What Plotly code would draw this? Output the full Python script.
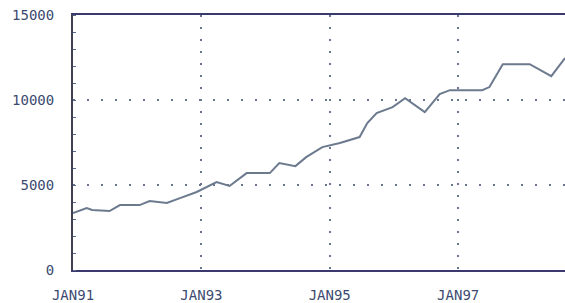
import plotly.graph_objects as go

dates = ["1991-01-01", "1991-03-20", "1991-04-20", "1991-07-28", "1991-09-25",
         "1992-01-15", "1992-03-12", "1992-06-18", "1992-09-01", "1992-12-05",
         "1993-03-28", "1993-06-10", "1993-09-15", "1994-01-25", "1994-03-20",
         "1994-06-20", "1994-08-20", "1994-11-20", "1995-02-28", "1995-06-20",
         "1995-08-03", "1995-09-25", "1995-12-25", "1996-03-05", "1996-06-25",
         "1996-09-18", "1996-11-15", "1997-05-18", "1997-06-28", "1997-09-12",
         "1998-02-12", "1998-06-15", "1998-09-01"]
values = [3350, 3650, 3530, 3470, 3820,
          3820, 4060, 3940, 4230, 4590,
          5170, 4940, 5700, 5700, 6290,
          6110, 6640, 7230, 7470, 7820,
          8640, 9230, 9580, 10110, 9290,
          10350, 10580, 10580, 10760, 12110,
          12110, 11400, 12470]

x_tickvals = ["1991-01-01", "1993-01-01", "1995-01-01", "1997-01-01"]
x_ticktext = ["JAN91", "JAN93", "JAN95", "JAN97"]
y_tickvals = [0, 5000, 10000, 15000]
y_ticktext = ["0", "5000", "10000", "15000"]

fig = go.Figure()
fig.add_trace(go.Scatter(x=dates, y=values, mode="lines",
                         line=dict(color="#6c7a8e", width=2), showlegend=False))

fig.update_layout(
    width=565, height=303,
    margin=dict(l=73, r=0, t=15, b=33, autoexpand=False),
    paper_bgcolor="white", plot_bgcolor="white",
    font=dict(family="DejaVu Sans Mono", size=14, color="#3c4a70"),
)
fig.update_xaxes(
    range=["1991-01-01", "1998-09-01"],
    tickvals=x_tickvals, ticktext=x_ticktext,
    showgrid=True, gridcolor="#6a7690", griddash="2px,10px", gridwidth=2,
    showline=True, linecolor="#3a3a6e", linewidth=2, mirror=True,
    ticks="", zeroline=False, automargin=False, ticklabelstandoff=11,
    ticklabeloverflow="allow",
)
fig.update_yaxes(
    range=[0, 15000],
    tickvals=y_tickvals, ticktext=y_ticktext,
    showgrid=True, gridcolor="#6a7690", griddash="2px,12px", gridwidth=2,
    showline=True, linecolor="#404050", linewidth=2,
    ticks="", zeroline=False, automargin=False, ticklabelstandoff=14,
    ticklabeloverflow="allow",
    minor=dict(dtick=1000, ticks="inside", ticklen=3, tickcolor="#5a6a90", showgrid=False),
)

fig.write_html("out.html", config={"displayModeBar": False},
               post_script="document.body.style.margin='0px';document.body.style.overflow='hidden';")
